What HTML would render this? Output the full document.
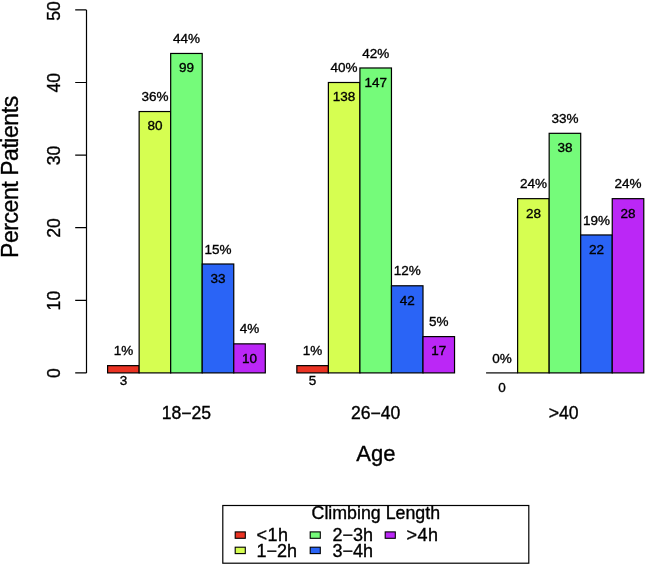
<!DOCTYPE html>
<html lang="en"><head><meta charset="utf-8"><title>Climbing Length by Age</title>
<style>html,body{margin:0;padding:0;background:#fff}body{width:645px;height:566px;overflow:hidden}svg{display:block;will-change:transform}text{font-family:"Liberation Sans",Arial,Helvetica,sans-serif;fill:#000;stroke:#000;stroke-width:.35px}.l{font-size:13.5px;text-anchor:middle}.t{font-size:17.6px;text-anchor:middle}.n{font-size:17.6px;text-anchor:middle}.a{font-size:22px;text-anchor:middle}.g{font-size:18px}</style></head><body>
<svg width="645" height="566" viewBox="0 0 645 566">
<rect width="645" height="566" fill="#fff"/>
<g stroke="#000" stroke-width="1.2">
<rect x="107.60" y="365.64" width="31.54" height="7.26" fill="#EA3323"/>
<rect x="139.14" y="111.54" width="31.54" height="261.36" fill="#D6FE51"/>
<rect x="170.68" y="53.46" width="31.54" height="319.44" fill="#75FB7A"/>
<rect x="202.22" y="264.00" width="31.54" height="108.90" fill="#2A64F6"/>
<rect x="233.76" y="343.86" width="31.54" height="29.04" fill="#BB27F6"/>
<rect x="296.84" y="365.64" width="31.54" height="7.26" fill="#EA3323"/>
<rect x="328.38" y="82.50" width="31.54" height="290.40" fill="#D6FE51"/>
<rect x="359.92" y="67.98" width="31.54" height="304.92" fill="#75FB7A"/>
<rect x="391.46" y="285.78" width="31.54" height="87.12" fill="#2A64F6"/>
<rect x="423.00" y="336.60" width="31.54" height="36.30" fill="#BB27F6"/>
<path d="M486.08 372.90H517.62" fill="none"/>
<rect x="517.62" y="198.66" width="31.54" height="174.24" fill="#D6FE51"/>
<rect x="549.16" y="133.32" width="31.54" height="239.58" fill="#75FB7A"/>
<rect x="580.70" y="234.96" width="31.54" height="137.94" fill="#2A64F6"/>
<rect x="612.24" y="198.66" width="31.54" height="174.24" fill="#BB27F6"/>
</g>
<path d="M86.5 9.9V372.9M86.5 372.9H75.2M86.5 300.3H75.2M86.5 227.7H75.2M86.5 155.1H75.2M86.5 82.5H75.2M86.5 9.9H75.2" fill="none" stroke="#000" stroke-width="1.2"/>
<text class="t" transform="translate(60 373.2) rotate(-90)">0</text>
<text class="t" transform="translate(60 300.6) rotate(-90)">10</text>
<text class="t" transform="translate(60 228.0) rotate(-90)">20</text>
<text class="t" transform="translate(60 155.4) rotate(-90)">30</text>
<text class="t" transform="translate(60 82.8) rotate(-90)">40</text>
<text class="t" transform="translate(60 10.9) rotate(-90)">50</text>
<text class="a" style="font-size:23px" letter-spacing="-.45" transform="translate(17.6 177.1) rotate(-90)">Percent Patients</text>
<text class="l" x="123.4" y="355.2">1%</text>
<text class="l" x="123.4" y="384.5">3</text>
<text class="l" x="154.9" y="101.1">36%</text>
<text class="l" x="154.9" y="130.4">80</text>
<text class="l" x="186.4" y="43.0">44%</text>
<text class="l" x="186.4" y="72.3">99</text>
<text class="l" x="218.0" y="253.6">15%</text>
<text class="l" x="218.0" y="282.8">33</text>
<text class="l" x="249.5" y="333.4">4%</text>
<text class="l" x="249.5" y="362.7">10</text>
<text class="l" x="312.6" y="355.2">1%</text>
<text class="l" x="312.6" y="384.5">5</text>
<text class="l" x="344.1" y="72.1">40%</text>
<text class="l" x="344.1" y="101.3">138</text>
<text class="l" x="375.7" y="57.6">42%</text>
<text class="l" x="375.7" y="86.8">147</text>
<text class="l" x="407.2" y="275.4">12%</text>
<text class="l" x="407.2" y="304.6">42</text>
<text class="l" x="438.8" y="326.2">5%</text>
<text class="l" x="438.8" y="355.4">17</text>
<text class="l" x="501.9" y="362.5">0%</text>
<text class="l" x="501.9" y="391.7">0</text>
<text class="l" x="533.4" y="188.2">24%</text>
<text class="l" x="533.4" y="217.5">28</text>
<text class="l" x="564.9" y="122.9">33%</text>
<text class="l" x="564.9" y="152.1">38</text>
<text class="l" x="596.5" y="224.5">19%</text>
<text class="l" x="596.5" y="253.8">22</text>
<text class="l" x="628.0" y="188.2">24%</text>
<text class="l" x="628.0" y="217.5">28</text>
<text class="n" x="186.4" y="419">18−25</text>
<text class="n" x="375.7" y="419">26−40</text>
<text class="n" x="563.7" y="419">&gt;40</text>
<text class="a" x="375.8" y="461.3">Age</text>
<rect x="222.8" y="505.5" width="306" height="57.7" fill="#fff" stroke="#000" stroke-width="1.2"/>
<text class="g" x="375.8" y="519.3" text-anchor="middle" style="font-size:17.8px">Climbing Length</text>
<rect x="235.2" y="531.9" width="10.1" height="6.4" fill="#EA3323" stroke="#000" stroke-width="1.1"/>
<text class="g" x="256.5" y="541.4" letter-spacing=".5">&lt;1h</text>
<rect x="235.2" y="547.2" width="10.1" height="6.4" fill="#D6FE51" stroke="#000" stroke-width="1.1"/>
<text class="g" x="256.5" y="556.5">1−2h</text>
<rect x="310.2" y="531.9" width="10.1" height="6.4" fill="#75FB7A" stroke="#000" stroke-width="1.1"/>
<text class="g" x="332.5" y="541.4">2−3h</text>
<rect x="310.2" y="547.2" width="10.1" height="6.4" fill="#2A64F6" stroke="#000" stroke-width="1.1"/>
<text class="g" x="332.5" y="556.5">3−4h</text>
<rect x="385.2" y="531.9" width="10.1" height="6.4" fill="#BB27F6" stroke="#000" stroke-width="1.1"/>
<text class="g" x="406.5" y="541.4" letter-spacing=".5">&gt;4h</text>
</svg></body></html>
